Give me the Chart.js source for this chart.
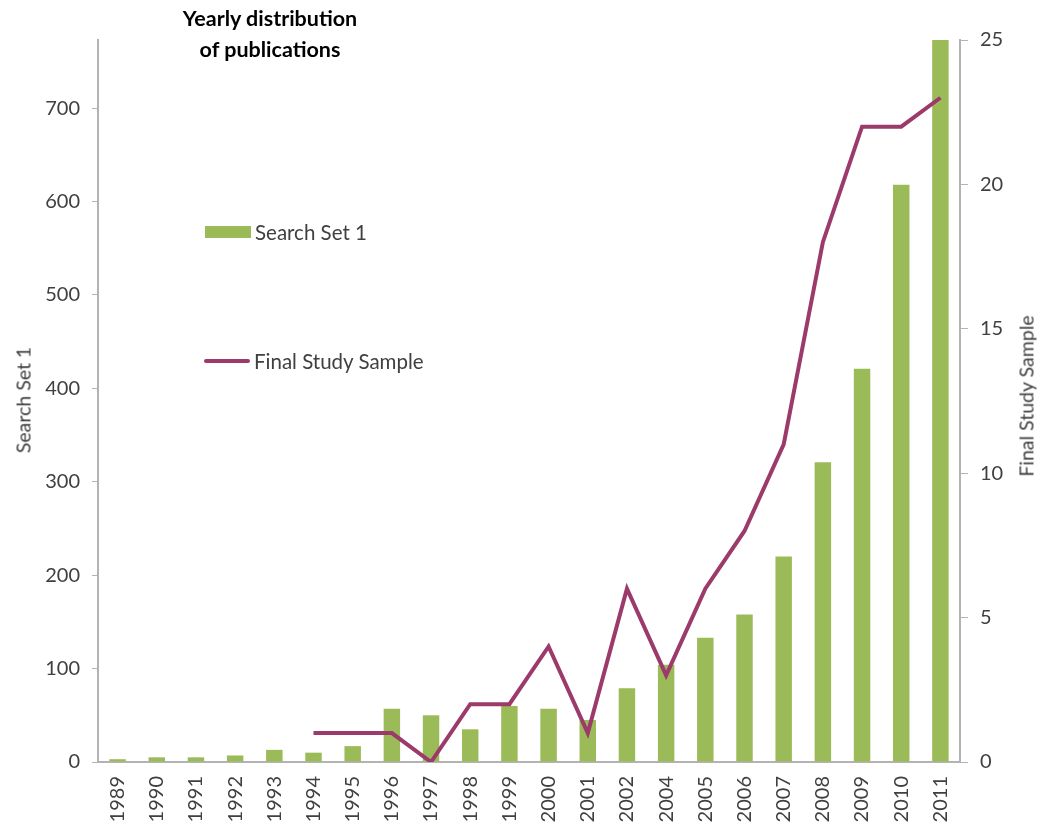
<!DOCTYPE html>
<html>
<head>
<meta charset="utf-8">
<script src="https://cdn.jsdelivr.net/npm/chart.js@4"></script>
<style>
  body { margin: 0; background: #fff; }
  #wrap { position: relative; width: 1040px; height: 828px; font-family: Lato, "Open Sans", sans-serif; color: #404040; }
  #chart { position: absolute; left: 0; top: 0; }
  .title { position: absolute; left: 270px; top: 3px; transform: translateX(-50%); text-align: center; font-weight: bold; font-size: 21.5px; line-height: 31px; color: #000; white-space: nowrap; }
  .axis-title { position: absolute; font-size: 19.5px; white-space: nowrap; transform: translate(-50%, -50%) rotate(-90deg); }
  .legend-item { position: absolute; font-size: 20.5px; white-space: nowrap; display: flex; align-items: center; }
  .swatch-bar { width: 46px; height: 12px; background: #9bbb59; margin-right: 4px; }
  .swatch-line { width: 46px; height: 4px; border-radius: 2px; background: #9b3a6b; margin-right: 4px; }
</style>
</head>
<body>
<div id="wrap">
  <canvas id="chart" width="1040" height="828"></canvas>
  <div class="title">Yearly distribution<br>of publications</div>
  <div class="axis-title" style="left:23px; top:400px;">Search Set 1</div>
  <div class="axis-title" style="left:1026px; top:396px;">Final Study Sample</div>
  <div class="legend-item" style="left:205px; top:220px;"><span class="swatch-bar"></span>Search Set 1</div>
  <div class="legend-item" style="left:204px; top:349px;"><span class="swatch-line"></span>Final Study Sample</div>
</div>
<script>
// Data
const years = ["1989", "1990", "1991", "1992", "1993", "1994", "1995", "1996", "1997", "1998", "1999",
  "2000", "2001", "2002", "2004", "2005", "2006", "2007", "2008", "2009", "2010", "2011"];
const searchSet1 = [3, 5, 5, 7, 13, 10, 17, 57, 50, 35, 60, 57, 45, 79, 104, 133, 158, 220, 321, 421, 618, 773];
const finalStudySample = [null, null, null, null, null, 1, 1, 1, 0, 2, 2, 4, 1, 6, 3, 6, 8, 11, 18, 22, 22, 23];
const leftTicks = [0, 100, 200, 300, 400, 500, 600, 700];
const rightTicks = [0, 5, 10, 15, 20, 25];

const tickFont = { family: "Lato, 'Open Sans', sans-serif", size: 20 };

function renderChart() {
  const ctx = document.getElementById("chart").getContext("2d");

  new Chart(ctx, {
    type: 'bar',
    data: {
      labels: years,
      datasets: [
        {
          type: 'line',
          label: 'Final Study Sample',
          data: finalStudySample,
          yAxisID: 'y2',
          borderColor: '#9b3a6b',
          borderWidth: 4,
          pointRadius: 0,
          tension: 0,
          order: 0
        },
        {
          label: 'Search Set 1',
          data: searchSet1,
          yAxisID: 'y',
          backgroundColor: '#9bbb59',
          barPercentage: 0.42,
          categoryPercentage: 1,
          order: 1
        }
      ]
    },
    options: {
      responsive: false,
      animation: false,
      layout: { padding: { top: 40, left: 0, right: 0, bottom: 0 } },
      plugins: {
        legend: { display: false },
        tooltip: { enabled: false }
      },
      scales: {
        x: {
          grid: { display: false },
          border: { display: true, color: '#b3b3b3', width: 2 },
          ticks: { color: '#404040', font: tickFont, minRotation: 90, maxRotation: 90, padding: 6 },
          afterFit: scale => { scale.height = 66; }
        },
        y: {
          position: 'left',
          min: 0,
          max: 773,
          grid: { drawOnChartArea: false, color: '#b3b3b3', tickLength: 6 },
          border: { color: '#b3b3b3', width: 2 },
          ticks: { color: '#404040', font: tickFont, padding: 12 },
          afterBuildTicks: scale => { scale.ticks = leftTicks.map(v => ({ value: v })); },
          afterFit: scale => { scale.width = 98; }
        },
        y2: {
          position: 'right',
          min: 0,
          max: 25,
          grid: { drawOnChartArea: false, color: '#b3b3b3', tickLength: 8 },
          border: { color: '#b3b3b3', width: 2 },
          ticks: { color: '#404040', font: tickFont, padding: 12 },
          afterBuildTicks: scale => { scale.ticks = rightTicks.map(v => ({ value: v })); },
          afterFit: scale => { scale.width = 80; }
        }
      }
    }
  });
}

renderChart();
</script>
</body>
</html>
